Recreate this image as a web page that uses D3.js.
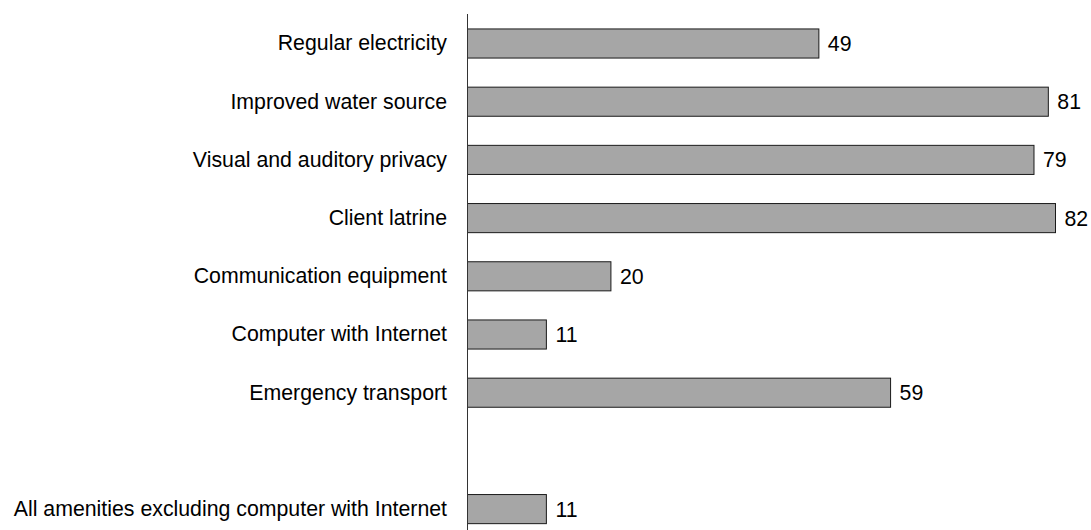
<!DOCTYPE html>
<html><head><meta charset="utf-8">
<script src="https://cdn.jsdelivr.net/npm/d3@7"></script>
<style>body{margin:0;background:#fff}svg{display:block}</style>
</head><body>
<svg id="c" width="1091" height="530"></svg>
<script>
const categories = ["Regular electricity","Improved water source","Visual and auditory privacy","Client latrine","Communication equipment","Computer with Internet","Emergency transport","All amenities excluding computer with Internet"];
const values = [49,81,79,82,20,11,59,11];
const slots = categories.slice(0,7).concat(["__gap__"], categories.slice(7));

const svg = d3.select("#c");
const x = d3.scaleLinear().domain([0,82]).range([467.5,1055.5]);
const y = d3.scaleBand().domain(slots).range([14.4,538.2]).paddingInner(0.5).paddingOuter(0.25);

const data = categories.map((c,i)=>({c, v:values[i]}));
const FS = 21.3;

svg.selectAll("rect.bar").data(data).join("rect")
  .attr("class","bar")
  .attr("x", x(0)).attr("y", d=>y(d.c))
  .attr("width", d=>x(d.v)-x(0)).attr("height", y.bandwidth())
  .attr("fill","#a6a6a6").attr("stroke","#1a1a1a").attr("stroke-width",1);

svg.selectAll("text.val").data(data).join("text")
  .attr("class","val")
  .attr("x", d=>x(d.v)+9).attr("y", d=>y(d.c)+y.bandwidth()/2)
  .attr("dy","0.35em")
  .attr("font-family","Liberation Sans, Arial, sans-serif").attr("font-size",FS)
  .attr("fill","#000").text(d=>d.v);

const axis = d3.axisLeft(y).tickSize(0).tickPadding(20).tickFormat(d=>d==="__gap__"?"":d);
const g = svg.append("g").attr("transform",`translate(${x(0)-0.5},0)`).call(axis);
g.select(".domain").attr("d","M0.5,14V530").attr("stroke","#333");
g.selectAll("text").attr("font-family","Liberation Sans, Arial, sans-serif").attr("font-size",FS).attr("fill","#000");
</script>
</body></html>
